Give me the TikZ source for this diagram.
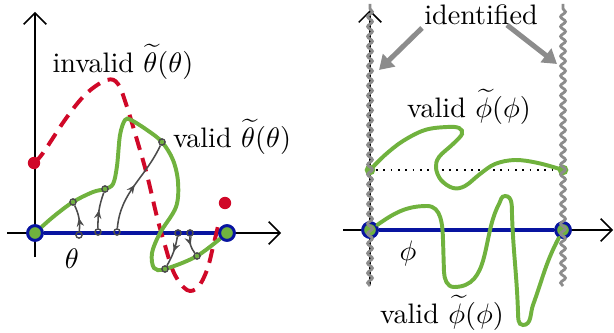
\documentclass[tikz,border=0pt]{standalone}
\usepackage{amsmath}
\usepackage{amssymb}
\usetikzlibrary{arrows.meta,decorations.pathmorphing,decorations.markings}
\definecolor{curvegreen}{RGB}{112,178,62}
\definecolor{badred}{RGB}{208,8,40}
\definecolor{baseblue}{RGB}{8,20,160}
\definecolor{wallgray}{RGB}{140,140,140}
\definecolor{flowgray}{RGB}{75,75,75}

\begin{document}
\begin{tikzpicture}[
  x=0.355pt, y=-0.355pt,
  axis/.style={line width=0.55pt, -{Straight Barb[length=4pt,width=8pt]}},
  base/.style={draw=baseblue, line width=1.2pt},
  good/.style={draw=curvegreen, line width=1.4pt, line cap=round},
  bad/.style={draw=badred, line width=1.4pt, dash pattern=on 5pt off 3pt},
  wall/.style={draw=wallgray, line width=1pt, decorate, decoration={snake, amplitude=0.85pt, segment length=3.5pt}},
  endpt/.style={circle, draw=baseblue, line width=1pt, fill=curvegreen, minimum size=5.2pt, inner sep=0pt},
  gdot/.style={circle, fill=curvegreen, minimum size=3.8pt, inner sep=0pt},
  rdot/.style={circle, fill=badred, minimum size=4.4pt, inner sep=0pt},
  ring/.style={circle, draw=flowgray, line width=0.5pt, minimum size=2.2pt, inner sep=0pt},
  flow/.style={draw=flowgray, line width=0.55pt, postaction={decorate},
    decoration={markings, mark=at position 0.5 with {\arrow{Stealth[length=3pt,width=2.6pt]}}}},
  pointer/.style={draw=wallgray, line width=1.8pt, -{Triangle[length=5pt,width=6pt]}},
  lbl/.style={font=\normalsize, inner sep=1pt}]
\useasboundingbox (0,0) rectangle (614,333);

% left panel
\coordinate (Ly0) at (35,257);
\coordinate (Ly1) at (35,12);
\coordinate (Lx0) at (7,233);
\coordinate (Lx1) at (281,233);
\draw[axis] (Ly0) -- (Ly1);
\draw[axis] (Lx0) -- (Lx1);
\node[endpt] (L0) at (35,233) {};
\node[endpt] (L1) at (227,233) {};
\draw[base] (L0) -- (L1);
\node[rdot] (r0) at (34,163) {};
\node[rdot] (r1) at (225,203) {};
\draw[bad] plot[smooth, tension=0.6] coordinates {(r0) (43,153) (67,117) (87,93) (107,80) (118,84)
  (127,107) (137,140) (147,175) (157,217) (164,242) (174,273) (187,290) (198,287) (207,270) (213,247) (219,222)};
\draw[good] plot[smooth, tension=0.55] coordinates {(L0) (53,217) (73,202) (93,192) (105,189) (113,184)
  (117,166) (120,135) (125,120) (131,120) (147,130) (162,142) (173,160) (178,182) (176,207) (160,233)
  (152,253) (154,268) (165,269) (197,256) (L1)};
\node[endpt] at (L0) {};
\node[endpt] at (L1) {};
% flow lines
\node[ring] (f1a) at (79,235) {};
\node[ring] (f1b) at (73,202) {};
\node[ring] (f2a) at (98,232) {};
\node[ring] (f2b) at (105,189) {};
\node[ring] (f3a) at (117,232) {};
\node[ring] (f3b) at (162,142) {};
\node[ring] (f4a) at (178,233) {};
\node[ring] (f4b) at (165,269) {};
\node[ring] (f5a) at (190,233) {};
\node[ring] (f5b) at (197,256) {};
\draw[flow] (f1a) to[bend right=15] (f1b);
\draw[flow] (f2a) to[bend left=10] (f2b);
\draw[flow] (f3a) to[out=85, in=-115] (f3b);
\draw[flow] (f4a) to[bend left=10] (f4b);
\draw[flow] (f5a) to[bend right=20] (f5b);
\node[lbl] (inv) at (123,62) {invalid $\widetilde{\theta}(\theta)$};
\node[lbl] (val) at (232,137) {valid $\widetilde{\theta}(\theta)$};
\node[lbl] (th) at (72,259) {$\theta$};

% right panel
\coordinate (Ry0) at (370,285);
\coordinate (Ry1) at (370,10);
\coordinate (Rx0) at (343,230);
\coordinate (Rx1) at (613,230);
\draw[axis] (Ry0) -- (Ry1);
\draw[axis] (Rx0) -- (Rx1);
\node[endpt] (R0) at (370,230) {};
\node[endpt] (R1) at (563,230) {};
\draw[base] (R0) -- (R1);
\node[gdot] (U0) at (370,170) {};
\node[gdot] (U1) at (563,170) {};
\draw[dotted, line width=0.6pt] (U0) -- (U1);
\node[endpt] at (R0) {};
\node[endpt] at (R1) {};
\draw[good] plot[smooth, tension=0.6] coordinates {(U0) (385,155) (403,141) (425,130) (447,127) (459,128)
  (462,134) (453,144) (439,157) (436,168) (441,180) (453,188) (465,186) (480,174) (495,164) (515,160)
  (538,163) (U1)};
\draw[good] (R0) to[out=35,in=180] (427,206) to[out=0,in=92] (443,240) to[out=-88,in=92] (444,272)
  to[out=-88,in=180] (454,287) to[out=0,in=-118] (499,204) to[out=62,in=180] (505,196)
  to[out=0,in=92] (512,215) to[out=-88,in=92] (518,312) to[out=-88,in=180] (523,325)
  to[out=0,in=-110] (533,305) to[out=70,in=-118] (R1);
\coordinate (W0a) at (370,286);
\coordinate (W0b) at (370,4);
\coordinate (W1a) at (563,286);
\coordinate (W1b) at (563,4);
\draw[wall] (W0a) -- (W0b);
\draw[wall] (W1a) -- (W1b);
\node[lbl] (idf) at (481,15) {identified};
\coordinate (pl0) at (422,28);
\coordinate (pl) at (379,70);
\coordinate (pr0) at (507,25);
\coordinate (pr) at (557,64);
\draw[pointer] (pl0) -- (pl);
\draw[pointer] (pr0) -- (pr);
\node[lbl] (vup) at (469,107) {valid $\widetilde{\phi}(\phi)$};
\node[lbl] (ph) at (408,253) {$\phi$};
\node[lbl] (vdn) at (442,313) {valid $\widetilde{\phi}(\phi)$};
\end{tikzpicture}
\end{document}
